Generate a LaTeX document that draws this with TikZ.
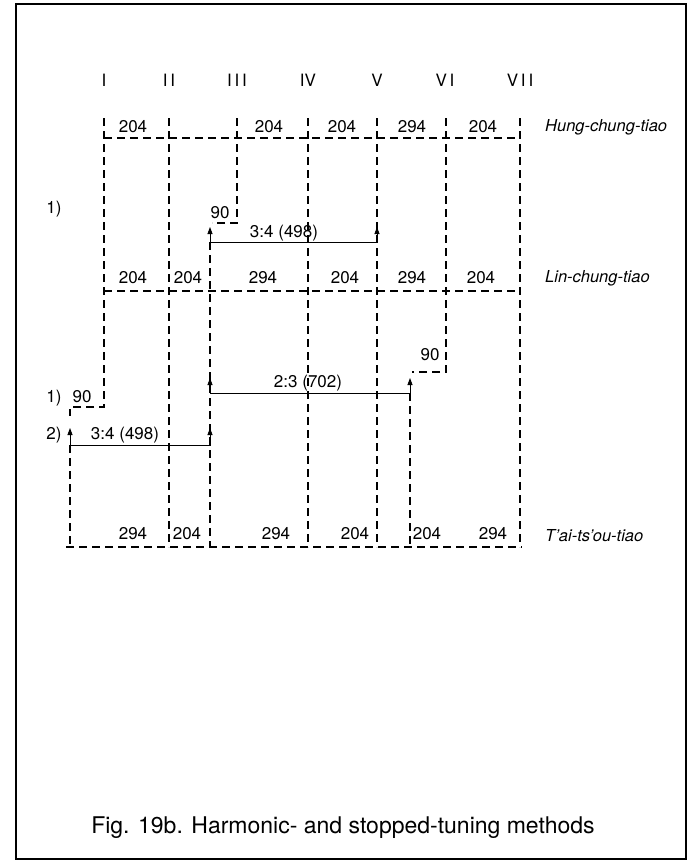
\documentclass[tikz,border=0pt]{standalone}
\usepackage{fontspec}
\setmainfont{TeX Gyre Heros}
\usetikzlibrary{arrows.meta}

\tikzset{
	string/.style={line width=1.7pt, dash pattern=on 8pt off 5pt},
	tuned/.style={line width=0.8pt, {Triangle[length=7pt,width=5pt]}-{Triangle[length=7pt,width=5pt]}},
	cents/.style={font=\fontsize{17}{19}\selectfont, inner sep=1pt},
	mode/.style={font=\fontsize{16.5}{18}\selectfont\itshape, anchor=west, inner sep=0pt},
}

\begin{document}
\begin{tikzpicture}[x=1pt,y=-1pt]
		\useasboundingbox (0,0) rectangle (689,863);
		\draw[line width=2.5pt] (16,4) rectangle (686,859);

		% the seven strings
		\foreach \x/\n in {104/I,169/I\,I,237/I\,I\,I,308/IV,377/V,445/V\,I,520/V\,I\,I}
			\node[cents] at (\x,80) {\n};

		% dashed string lines
		\draw[string] (104,138) -- (520,138);
		\draw[string] (104,291) -- (520,291);
		\draw[string] (66,547) -- (522,547);
		\foreach \x in {169,308,377,520}
			\draw[string] (\x,118) -- (\x,547);
		\draw[string] (104,118) -- (104,407) -- (70,407) -- (70,416);
		\draw[string] (237,118) -- (237,223) -- (212,223);
		\draw[string] (446,118) -- (446,372) -- (412,372);
		\draw[string] (70,445) -- (70,547);
		\draw[string] (210,242) -- (210,547);
		\draw[string] (410,393) -- (410,547);

		% harmonic tunings
		\coordinate (up1) at (210,242);
		\coordinate (up2) at (377,242);
		\coordinate (mid1) at (210,393);
		\coordinate (mid2) at (410,393);
		\coordinate (lo1) at (70,445);
		\coordinate (lo2) at (210,445);
		\draw[tuned] ([yshift=15pt]up1) -- (up1) -- (up2) -- ([yshift=15pt]up2);
		\draw[tuned] ([yshift=15pt]mid1) -- (mid1) -- (mid2) -- ([yshift=15pt]mid2);
		\draw[tuned] ([yshift=17pt]lo1) -- (lo1) -- (lo2) -- ([yshift=17pt]lo2);

		\node[cents] (r1) at (284,233) {3:4 (498)};
		\node[cents] (r2) at (308,383) {2:3 (702)};
		\node[cents] (r3) at (125,435) {3:4 (498)};
		\node[cents] (d1) at (220,213) {90};
		\node[cents] (d2) at (82,397) {90};
		\node[cents] (d3) at (430,355) {90};
		\node[cents] (m1) at (54,209) {1)};
		\node[cents] (m2) at (54,398) {1)};
		\node[cents] (m3) at (54,435) {2)};

		% intervals in cents
		\foreach \x/\c [count=\i] in {133/204,269/204,342/204,412/294,483/204}
			\node[cents] (h\i) at (\x,127) {\c};
		\foreach \x/\c [count=\i] in {133/204,188/204,263/294,345/204,412/294,481/204}
			\node[cents] (l\i) at (\x,278) {\c};
		\foreach \x/\c [count=\i] in {133/294,187/204,276/294,355/204,427/204,493/294}
			\node[cents] (t\i) at (\x,534) {\c};

		\node[mode] (hung) at (545,127) {Hung-chung-tiao};
		\node[mode] (lin) at (545,278) {Lin-chung-tiao};
		\node[mode] (tai) at (545,536) {T'ai-ts'ou-tiao};

		\node[font=\fontsize{23}{26}\selectfont] (cap) at (343,828) {Fig. 19b. Harmonic- and stopped-tuning methods};
	\end{tikzpicture}
\end{document}
